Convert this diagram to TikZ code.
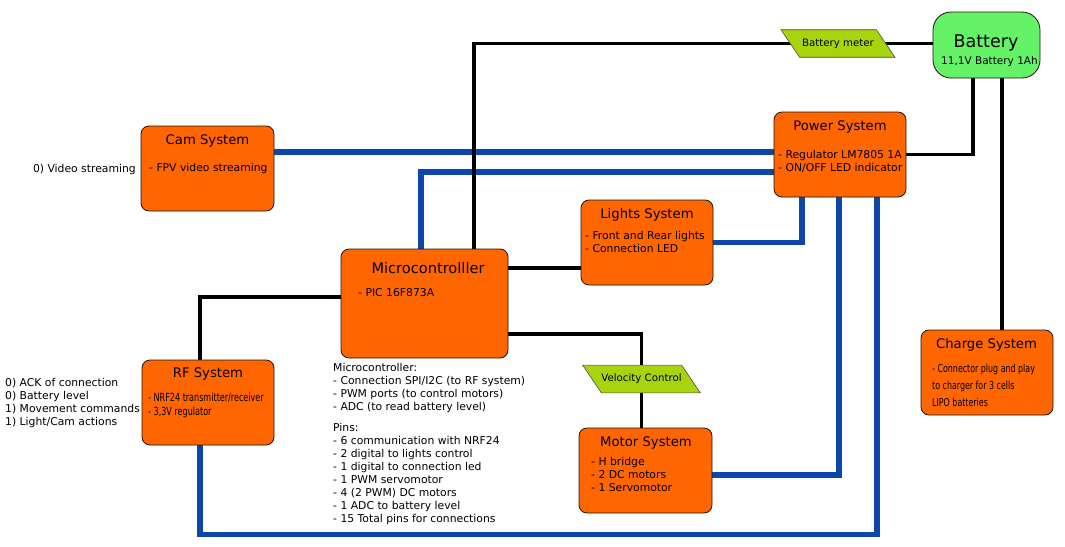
\documentclass[tikz,border=0pt]{standalone}
\usepackage{fontspec}
\setmainfont{DejaVu Sans}
\newfontfamily\narrowfont{DejaVu Sans}[FakeStretch=0.72]
\usetikzlibrary{shapes.geometric,backgrounds}
\definecolor{sysorange}{HTML}{FF6600}
\definecolor{battgreen}{HTML}{66F266}
\definecolor{metergreen}{HTML}{A8D40F}
\definecolor{busblue}{HTML}{0D47AB}

\begin{document}
\begin{tikzpicture}[x=1pt,y=-1pt,
	sysbox/.style={draw=black!85!brown,line width=0.8pt,fill=sysorange,rounded corners=8pt,inner sep=0pt},
	slanted/.style={trapezium,trapezium left angle=124,trapezium right angle=56,trapezium stretches body,draw=black!70,line width=0.6pt,fill=metergreen,inner xsep=0pt,inner ysep=9pt,font=\fontsize{10.2}{12}\selectfont},
	title/.style={inner sep=0pt,font=\fontsize{13.2}{15}\selectfont},
	body/.style={inner sep=0pt,anchor=base west,align=left,font=\fontsize{10.8}{13}\selectfont},
	block/.style={body,anchor=north west},
	wire/.style={line width=3.5pt},
	bus/.style={busblue,line width=5.5pt}]
	\useasboundingbox (0,0) rectangle (1065,546);

	\node[sysbox,fill=battgreen,rounded corners=18pt,minimum width=107,minimum height=66] (battery) at (986.5,45) {};
	\node[title,font=\fontsize{17.5}{20}\selectfont] (batttitle) at (986,43) {Battery};
	\node[title,font=\fontsize{10.5}{12}\selectfont] (battsub) at (989.5,62) {11,1V Battery 1Ah};
	\node[slanted,minimum width=114] (meter) at (838,43.5) {Battery meter};

	\node[sysbox,minimum width=133,minimum height=85] (cam) at (207.5,168.5) {};
	\node[title] (camtitle) at (207.5,141) {Cam System};
	\node[body] (cambody) at (149,171) {- FPV video streaming};
	\node[body,anchor=base east] (camlink) at (136,172) {0) Video streaming};

	\node[sysbox,minimum width=132,minimum height=85] (power) at (840,154.5) {};
	\node[title] (powertitle) at (840,127) {Power System};
	\node[block] (powerbody) at (778,150) {- Regulator LM7805 1A\\- ON/OFF LED indicator};

	\node[sysbox,minimum width=132,minimum height=85] (lights) at (647,242.5) {};
	\node[title] (lightstitle) at (647,215) {Lights System};
	\node[block] (lightsbody) at (585,231) {- Front and Rear lights\\- Connection LED};

	\node[sysbox,minimum width=167,minimum height=109] (micro) at (424.5,303.5) {};
	\node[title,font=\fontsize{14.6}{17}\selectfont] (microtitle) at (428,268) {Microcontrolller};
	\node[body] (microbody) at (358,296) {- PIC 16F873A};
	\node[block] (micronotes) at (333,363) {Microcontroller:\\- Connection SPI/I2C (to RF system)\\- PWM ports (to control motors)\\- ADC (to read battery level)\\[8pt]Pins:\\- 6 communication with NRF24\\- 2 digital to lights control\\- 1 digital to connection led\\- 1 PWM servomotor\\- 4 (2 PWM) DC motors\\- 1 ADC to battery level\\- 15 Total pins for connections};

	\node[sysbox,minimum width=132,minimum height=85] (rf) at (208,402.5) {};
	\node[title] (rftitle) at (208,374) {RF System};
	\node[block,font=\narrowfont\fontsize{11.2}{14}\selectfont] (rfbody) at (148,392.5) {- NRF24 transmitter/receiver\\- 3,3V regulator};
	\node[block] (rflinks) at (5,378) {0) ACK of connection\\0) Battery level\\1) Movement commands\\1) Light/Cam actions};

	\node[slanted,minimum width=113] (velo) at (641.5,379) {Velocity Control};

	\node[sysbox,minimum width=133,minimum height=85] (motor) at (645.5,470.5) {};
	\node[title] (motortitle) at (646,443) {Motor System};
	\node[block] (motorbody) at (591,457) {- H bridge\\- 2 DC motors\\- 1 Servomotor};

	\node[sysbox,minimum width=132,minimum height=85] (charge) at (987,372.5) {};
	\node[title] (chargetitle) at (986.5,345) {Charge System};
	\node[block,font=\narrowfont\fontsize{11}{17}\selectfont] (chargebody) at (932,364) {- Connector plug and play\\to charger for 3 cells\\LIPO batteries};

	\begin{scope}[on background layer]
		\draw[bus] ([yshift=16.5]cam.east) -- ([yshift=16.5]cam.east -| power.west);
		\draw[bus] ([xshift=-3.5]micro.north) |- ([yshift=-17.5]power.west);
		\draw[bus] (lights.east) -| ([xshift=-38]power.south);
		\draw[bus] ([yshift=-4.5]motor.east) -| ([xshift=-1]power.south);
		\draw[bus] ([xshift=-8]rf.south) -- ++(0,89) -| ([xshift=37]power.south);
		\draw[wire] ([xshift=49.5]micro.north) |- (meter.center);
		\draw[wire] (meter.center) -- (meter.center -| battery.center);
		\draw[wire] ([xshift=-13.5]battery.south) |- (power.east);
		\draw[wire] ([xshift=15.5]battery.south) -- ([xshift=15.5]battery.south |- charge.north);
		\draw[wire] ([yshift=35.5]micro.east) -- ([yshift=35.5]micro.east -| lights.west);
		\draw[wire] ([yshift=-30.5]micro.east) -| (velo.center);
		\draw[wire] (velo.center) -- (velo.center |- motor.north);
		\draw[wire] ([yshift=6.5]micro.west) -| ([xshift=-8]rf.north);
	\end{scope}
\end{tikzpicture}
\end{document}
